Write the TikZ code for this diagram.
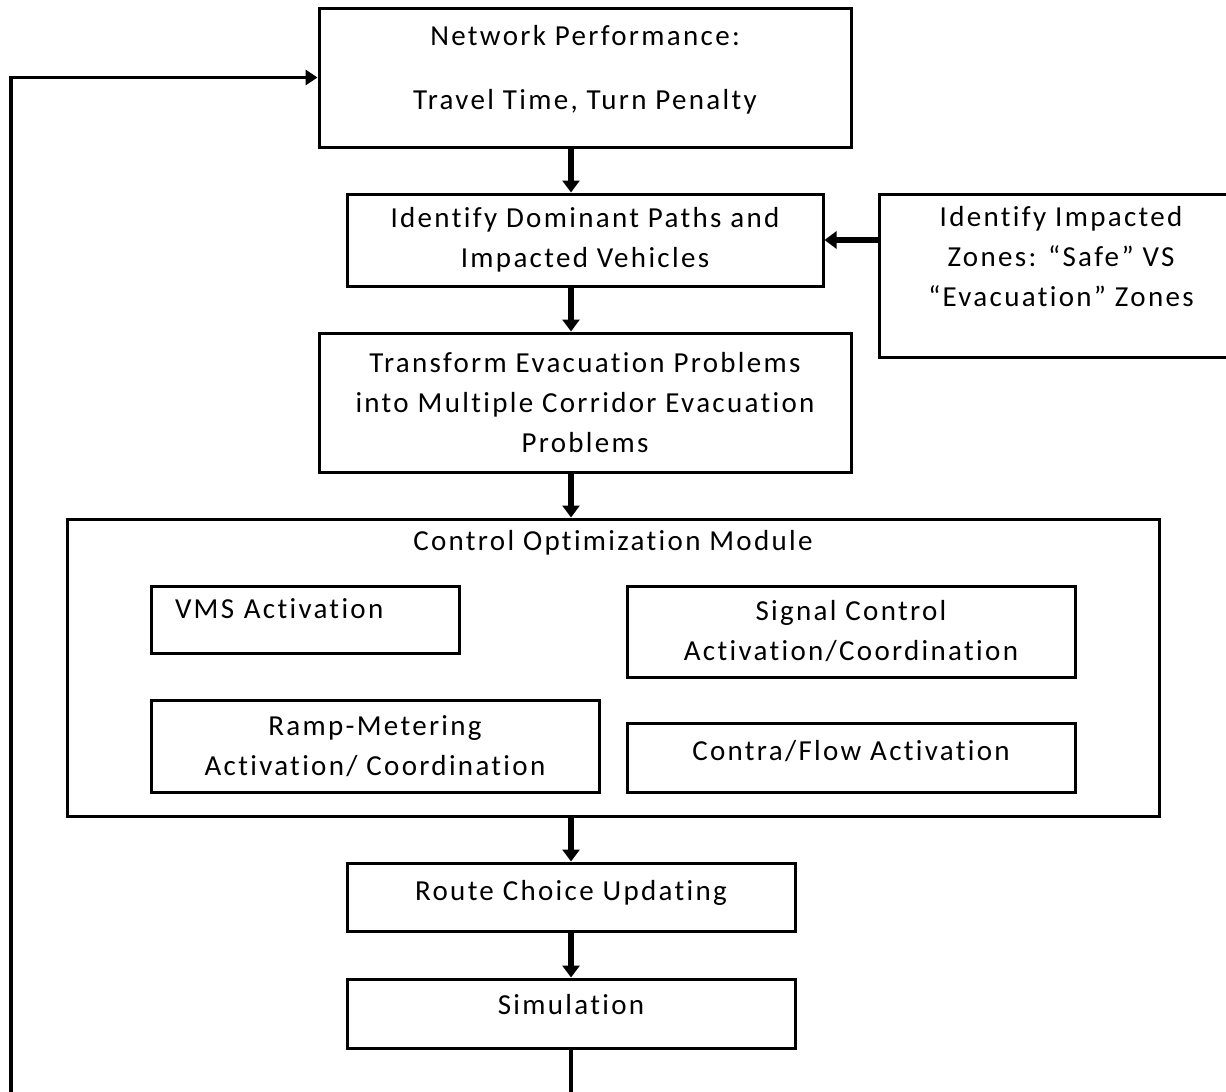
\documentclass[tikz,border=0pt]{standalone}
\usepackage{fontspec}
\setmainfont{Carlito}[LetterSpace=8, Ligatures={NoCommon, NoRare}, Contextuals=NoAlternate]
\usepackage{tikz}
\usetikzlibrary{arrows.meta}

\begin{document}
\begin{tikzpicture}[x=1pt, y=-1pt]
	\tikzstyle{box} = [draw, line width=3pt, rectangle, align=center, inner sep=0pt, font=\fontsize{29}{40}\selectfont]
	\tikzstyle{flow} = [line width=5.5pt, -{Triangle[length=12pt, width=17pt]}]
	\tikzstyle{back} = [line width=3.8pt, -{Triangle[length=12pt, width=15pt]}]

	\useasboundingbox (0,0) rectangle (1226,1092);
	\clip (0,0) rectangle (1226,1092);

	\draw (585,77.5) node[box, minimum width=532, minimum height=139, text depth=21pt] (perf) {Network Performance:\\[24pt]Travel Time, Turn Penalty};
	\draw (585,240) node[box, minimum width=476, minimum height=92] (paths) {Identify Dominant Paths and\\Impacted Vehicles};
	\draw (1061,275.5) node[box, minimum width=364, minimum height=163, text depth=38pt] (zones) {Identify Impacted\\Zones: “Safe” VS\\“Evacuation” Zones};
	\draw (585,402.5) node[box, minimum width=532, minimum height=139] (corr) {Transform Evacuation Problems\\into Multiple Corridor Evacuation\\Problems};

	\draw (613,667.5) node[box, minimum width=1092, minimum height=297] (ctrl) {};
	\draw (613,543) node[font=\fontsize{29}{40}\selectfont] (ctrltitle) {Control Optimization Module};
	\draw (305,619.5) node[box, align=left, text width=260, inner xsep=24pt, minimum height=67, text depth=22pt] (vms) {VMS Activation};
	\draw (851,631.5) node[box, minimum width=448, minimum height=91] (sig) {Signal Control\\Activation/Coordination};
	\draw (375,746) node[box, minimum width=448, minimum height=92] (ramp) {Ramp-Metering\\Activation/ Coordination};
	\draw (851,757.5) node[box, minimum width=448, minimum height=69, text depth=15pt] (contra) {Contra/Flow Activation};

	\draw (571,897) node[box, minimum width=448, minimum height=68, text depth=13pt] (route) {Route Choice Updating};
	\draw (571,1013.5) node[box, minimum width=448, minimum height=69, text depth=18pt] (sim) {Simulation};

	\coordinate (fbbot) at (571,1130);
	\coordinate (fbleft) at (11,1130);

	\draw[flow] (perf.south -| sim.north) -- (paths.north -| sim.north);
	\draw[flow] (paths.south -| sim.north) -- (corr.north -| sim.north);
	\draw[flow] (corr.south -| sim.north) -- (ctrl.north -| sim.north);
	\draw[flow] (ctrl.south -| sim.north) -- (route.north);
	\draw[flow] (route.south) -- (sim.north);
	\draw[flow] (zones.west |- paths.east) -- (paths.east);

	\draw[back] (sim.south) -- (fbbot) -- (fbleft) |- (perf.west);
\end{tikzpicture}
\end{document}
